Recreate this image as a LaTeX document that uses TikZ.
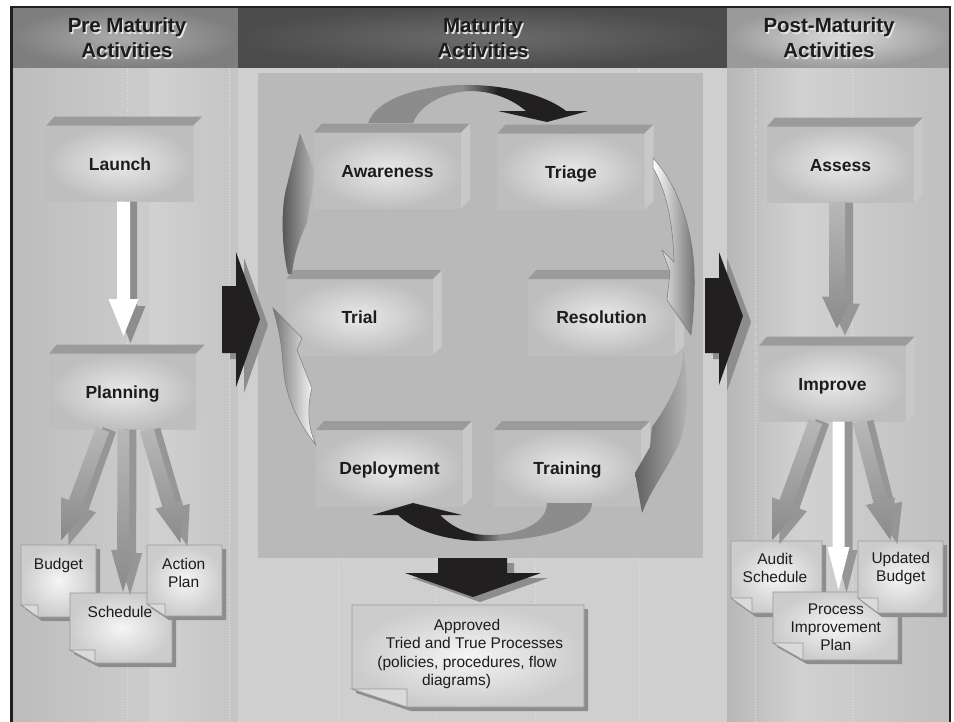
\documentclass[tikz,border=0pt]{standalone}
\usepackage{fontspec}
\setmainfont{Liberation Sans}
\usetikzlibrary{calc}

\definecolor{blk}{HTML}{221F20}
\definecolor{frontin}{HTML}{E9E9E9}
\definecolor{frontout}{HTML}{BEBEBE}
\definecolor{bevtop}{HTML}{9B9B9B}
\definecolor{bevside}{HTML}{C8C8C8}
\definecolor{txt}{HTML}{1C1C1C}
\definecolor{shad}{HTML}{8D8D8D}
\definecolor{notein}{HTML}{F5F5F5}
\definecolor{noteout}{HTML}{CCCCCC}
\definecolor{noteedge}{HTML}{9A9A9A}
\definecolor{flapc}{HTML}{DADADA}
\definecolor{panelc}{HTML}{B9B9B9}
\definecolor{arrlight}{HTML}{B8B8B8}
\definecolor{arrdark}{HTML}{8A8A8A}
\definecolor{arrshad}{HTML}{969696}
\definecolor{cyclegray}{HTML}{8C8C8C}
\definecolor{cycleedge}{HTML}{7A7A7A}
\definecolor{hdrLin}{HTML}{ADADAD}
\definecolor{hdrLout}{HTML}{7E7E7E}
\definecolor{hdrMin}{HTML}{6C6C6C}
\definecolor{hdrMout}{HTML}{4C4C4C}
\definecolor{hdrRin}{HTML}{DADADA}
\definecolor{hdrRout}{HTML}{9A9A9A}
\definecolor{hdrshadow}{HTML}{E4E4E4}

\newcommand\boxthreed[4]{%
  \node[stepbox] (#1) at (#2,#3) {#4};
  \fill[bevtop] (#1.north west) -- ++(8,-9) -- ($(#1.north east)+(9,-9)$) -- (#1.north east) -- cycle;
  \fill[bevside] (#1.north east) -- ++(9,-9) -- ($(#1.south east)+(9,-9)$) -- (#1.south east) -- cycle;
}

\newcommand\notedraw[3]{%
  \fill[shad] ($(#1.north west)+(4,4)$) -- ($(#1.north east)+(4,4)$) -- ($(#1.south east)+(4,4)$) -- ($(#1.south west)+(#2+4,4)$) -- ($(#1.south west)+(4,4-#3)$) -- cycle;
  \shade[inner color=notein, outer color=noteout, draw=noteedge, line width=0.8pt] (#1.north west) -- (#1.north east) -- (#1.south east) -- ($(#1.south west)+(#2,0)$) -- ($(#1.south west)+(0,-#3)$) -- cycle;
  \filldraw[fill=flapc, draw=noteedge, line width=0.8pt] ($(#1.south west)+(0,-#3)$) -- ($(#1.south west)+(#2,-#3)$) -- ($(#1.south west)+(#2,0)$) -- cycle;
}

\newcommand\blockarr[6]{%
  \path (#2) coordinate (ba) (#3) coordinate (bb);
  \path ($(bb)!#6!(ba)$) coordinate (bh);
  \path[#1] ($(ba)!#4!90:(bb)$) -- ($(bh)!#4!90:(bb)$) -- ($(bh)!#5!90:(bb)$) -- (bb) -- ($(bh)!#5!-90:(bb)$) -- ($(bh)!#4!-90:(bb)$) -- ($(ba)!#4!-90:(bb)$) -- cycle;
}

\tikzset{
  stepbox/.style={minimum width=147pt, minimum height=76pt, inner sep=0pt, outer sep=0pt,
    shade, inner color=frontin, outer color=frontout,
    font=\fontsize{17.5}{20}\selectfont\bfseries, text=txt, text height=13pt, text depth=0pt},
  noteframe/.style={inner sep=0pt, outer sep=0pt},
  notetxt/.style={font=\fontsize{15.5}{18.3}\selectfont, text=txt, align=center, inner sep=0pt, text depth=0pt},
  hdr/.style={font=\fontsize{20.5}{25}\selectfont\bfseries, align=center, inner sep=0pt, text=txt},
  hdrsh/.style={hdr, text=hdrshadow},
  vline/.style={dotted, line width=0.7pt, white!85!gray, opacity=0.7},
  grayarr/.style={shade, top color=arrlight, bottom color=arrdark},
  shadarr/.style={fill=arrshad},
}

\begin{document}
\begin{tikzpicture}[x=1pt,y=-1pt]
\useasboundingbox (0,0) rectangle (954,721);
\fill[white] (0,0) rectangle (954,721);

% headers
\shade[inner color=hdrLin, outer color=hdrLout] (12,7) rectangle (238,68);
\shade[inner color=hdrMin, outer color=hdrMout] (238,7) rectangle (727,68);
\shade[inner color=hdrRin, outer color=hdrRout] (727,7) rectangle (950,68);

% column bodies
\shade[left color=black!26, right color=black!20] (12,68) rectangle (150,722);
\shade[left color=black!18, right color=black!23] (150,68) rectangle (238,722);
\fill[black!19] (238,68) rectangle (727,722);
\shade[left color=black!28, right color=black!18] (727,68) rectangle (800,722);
\shade[left color=black!18, right color=black!25] (800,68) rectangle (950,722);

% faint dotted guide lines
\foreach \xx in {127,229,338,435,535,639,755,852}
  \draw[vline] (\xx,68) -- (\xx,722);

% maturity panel
\fill[panelc] (258,73) rectangle (703,558);

% header texts
\node[hdrsh] at (128.5,39.5) {Pre Maturity\\Activities};
\node[hdr] (hpre) at (127,38) {Pre Maturity\\Activities};
\node[hdrsh] at (484.5,39.5) {Maturity\\Activities};
\node[hdr] (hmat) at (483,38) {Maturity\\Activities};
\node[hdrsh] at (830.5,39.5) {Post-Maturity\\Activities};
\node[hdr] (hpost) at (829,38) {Post-Maturity\\Activities};

% transition arrows
\fill[shad] (230,292) -- (244,292) -- (244,258) -- (268,325) -- (244,393) -- (244,359) -- (230,359) -- cycle;
\fill[blk] (222,286) -- (236,286) -- (236,252) -- (260,319) -- (236,387) -- (236,353) -- (222,353) -- cycle;
\fill[shad] (713,284) -- (727,284) -- (727,258) -- (751,322) -- (727,391) -- (727,359) -- (713,359) -- cycle;
\fill[blk] (705,278) -- (719,278) -- (719,252) -- (743,316) -- (719,385) -- (719,353) -- (705,353) -- cycle;
\fill[shad] (445,563) -- (514,563) -- (514,578) -- (548,578) -- (480,602) -- (412,578) -- (445,578) -- cycle;
\fill[blk] (438,558) -- (507,558) -- (507,573) -- (541,573) -- (473,597) -- (405,573) -- (438,573) -- cycle;

% boxes
\boxthreed{launch}{120}{163.5}{Launch}
\boxthreed{planning}{122.5}{391.5}{Planning}
\boxthreed{awareness}{387.5}{170.5}{Awareness}
\boxthreed{triage}{571}{171.5}{Triage}
\boxthreed{trial}{359.5}{317}{Trial}
\boxthreed{resolution}{601.5}{317}{Resolution}
\boxthreed{deployment}{389.5}{468}{Deployment}
\boxthreed{training}{567.5}{468}{Training}
\boxthreed{assess}{840.5}{164.5}{Assess}
\boxthreed{improve}{832.5}{383.5}{Improve}

% cycle arrows
\def\toparrowpath{(368,123) .. controls (378,95) and (430,84) .. (472,85) .. controls (515,86) and (550,98) .. (566,111) -- (588,111) -- (547,122) -- (498,111) -- (526,111) .. controls (512,99) and (492,91) .. (470,91) .. controls (445,92) and (420,104) .. (413,123) -- cycle}
\begin{scope}
  \clip \toparrowpath;
  \fill[cyclegray] (360,80) rectangle (462,130);
  \shade[left color=cyclegray, right color=blk] (462,80) rectangle (498,130);
  \fill[blk] (498,80) rectangle (600,130);
\end{scope}
\def\botarrowpath{(592,503) .. controls (592,527) and (540,541) .. (483,541) .. controls (440,541) and (410,527) .. (398,515) -- (372,515) -- (413,503) -- (462,515) -- (440,515) .. controls (452,527) and (468,535) .. (488,535) .. controls (522,535) and (547,522) .. (547,503) -- cycle}
\begin{scope}
  \clip \botarrowpath;
  \fill[blk] (360,495) rectangle (472,545);
  \shade[left color=blk, right color=cyclegray] (472,495) rectangle (500,545);
  \fill[cyclegray] (500,495) rectangle (600,545);
\end{scope}
% Triage -> Resolution
\shade[left color=white, right color=black!55, draw=cycleedge, line width=0.5pt]
  (653,158) .. controls (678,185) and (692,228) .. (694,268) .. controls (695,295) and (693,318) .. (691,335)
  -- (667,300) -- (670,272) -- (662,250) -- (674,262) .. controls (673,222) and (666,190) .. (653,168) -- cycle;
% Resolution -> Training
\shade[left color=black!62, right color=black!28]
  (683,348) .. controls (690,388) and (688,428) .. (676,450) .. controls (665,472) and (652,488) .. (642,513)
  -- (635,473) -- (650,447) -- (652,427) .. controls (668,405) and (681,380) .. (683,358) -- cycle;
% Deployment -> Trial
\shade[left color=black!55, right color=white, draw=cycleedge, line width=0.5pt]
  (316,445) .. controls (296,420) and (285,395) .. (283,365) .. controls (282,345) and (279,330) .. (273,308)
  -- (302,338) -- (297,350) -- (312,388) .. controls (306,410) and (309,430) .. (316,445) -- cycle;
% Trial -> Awareness
\shade[left color=black!68, right color=black!28]
  (288,274) .. controls (281,245) and (281,205) .. (287,185) .. controls (292,165) and (296,148) .. (300,133)
  -- (315,172) -- (307,223) .. controls (299,240) and (294,255) .. (292,274) -- cycle;

% notes (frames)
\node[noteframe, minimum width=75pt, minimum height=72pt] (budget) at (58.5,581) {};
\node[noteframe, minimum width=102pt, minimum height=70pt] (schedule) at (121,628) {};
\node[noteframe, minimum width=75pt, minimum height=71pt] (action) at (184.5,580.5) {};
\node[noteframe, minimum width=232pt, minimum height=102pt] (approved) at (468,656) {};
\node[noteframe, minimum width=91pt, minimum height=72pt] (audit) at (776.5,577) {};
\node[noteframe, minimum width=125pt, minimum height=68pt] (pip) at (835.5,626) {};
\node[noteframe, minimum width=85pt, minimum height=72pt] (updated) at (900.5,577) {};
\notedraw{budget}{17}{12}
\notedraw{schedule}{25}{13}
\notedraw{action}{18}{12}
\notedraw{approved}{55}{18}
\notedraw{audit}{21}{15}
\notedraw{pip}{30}{17}
\notedraw{updated}{20}{15}

% straight block arrows
\coordinate (lpA) at ($(launch.south)+(3.5,0)$);
\coordinate (lpB) at ($(planning.north)+(1,-17.5)$);
\blockarr{fill=shad}{$(lpA)+(7,0)$}{$(lpB)+(7,7)$}{6.5pt}{15pt}{37pt}
\blockarr{fill=white}{lpA}{lpB}{6.5pt}{15pt}{37pt}

\coordinate (pbA) at ($(planning.south)+(-20,0)$);
\coordinate (pbB) at ($(budget.north)+(3,-5)$);
\coordinate (psA) at ($(planning.south)+(1,0)$);
\coordinate (psB) at ($(schedule.north)+(2,-1)$);
\coordinate (paA) at ($(planning.south)+(24,0)$);
\coordinate (paB) at ($(action.north)+(-4,-2)$);
\blockarr{shadarr}{$(pbA)+(7,0)$}{$(pbB)+(7,5)$}{7pt}{15pt}{40pt}
\blockarr{grayarr}{pbA}{pbB}{7pt}{15pt}{40pt}
\blockarr{shadarr}{$(psA)+(7,0)$}{$(psB)+(7,3)$}{6pt}{12pt}{42pt}
\blockarr{grayarr}{psA}{psB}{6pt}{12pt}{42pt}
\blockarr{shadarr}{$(paA)+(7,0)$}{$(paB)+(7,3)$}{7pt}{14pt}{40pt}
\blockarr{grayarr}{paA}{paB}{7pt}{14pt}{40pt}

\coordinate (aiA) at ($(assess.south)+(-3.5,0)$);
\coordinate (aiB) at ($(improve.north)+(4.5,-17)$);
\blockarr{shadarr}{$(aiA)+(8,0)$}{$(aiB)+(8,7)$}{8pt}{15pt}{32pt}
\blockarr{grayarr}{aiA}{aiB}{8pt}{15pt}{32pt}

\coordinate (iaA) at ($(improve.south)+(-17,0)$);
\coordinate (iaB) at ($(audit.north)+(-4,-1)$);
\coordinate (iuA) at ($(improve.south)+(27,0)$);
\coordinate (iuB) at ($(updated.north)+(-10,-1)$);
\coordinate (ipA) at ($(improve.south)+(6,0)$);
\coordinate (ipB) at ($(pip.north)+(3,-2)$);
\blockarr{shadarr}{$(iaA)+(7,0)$}{$(iaB)+(7,4)$}{7pt}{15pt}{40pt}
\blockarr{grayarr}{iaA}{iaB}{7pt}{15pt}{40pt}
\blockarr{shadarr}{$(iuA)+(7,0)$}{$(iuB)+(7,4)$}{7pt}{15pt}{40pt}
\blockarr{grayarr}{iuA}{iuB}{7pt}{15pt}{40pt}
\blockarr{shadarr}{$(ipA)+(8,0)$}{$(ipB)+(8,3)$}{6pt}{11pt}{43pt}
\blockarr{fill=white}{ipA}{ipB}{6pt}{11pt}{43pt}

% note texts
\node[notetxt] (budgetT) at (58.5,564) {Budget};
\node[notetxt] (scheduleT) at (120,612) {Schedule};
\node[notetxt] (actionT) at (183.7,573) {Action\\Plan};
\node[notetxt] (approvedT) at (467,652.5) {Approved\\\hspace*{15pt}Tried and True Processes\\(policies, procedures, flow\\diagrams)\hspace*{21pt}};
\node[notetxt] (auditT) at (775,567.7) {Audit\\Schedule};
\node[notetxt] (updatedT) at (900.8,567) {Updated\\Budget};
\node[notetxt] (pipT) at (835.8,627) {Process\\Improvement\\Plan};

% frame
\draw[line width=2.2pt, blk] (11.5,722) -- (11.5,7) -- (950,7) -- (950,722);
\end{tikzpicture}
\end{document}
